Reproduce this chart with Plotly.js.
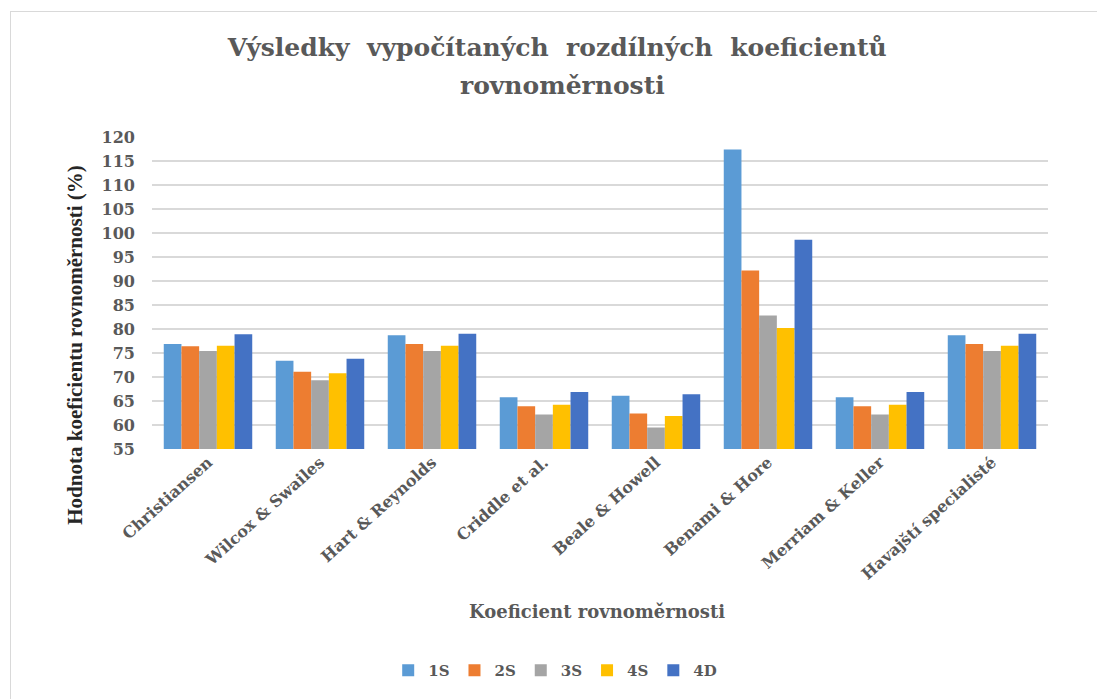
<!DOCTYPE html>
<html>
<head>
<meta charset="utf-8">
<script src="https://cdn.plot.ly/plotly-3.0.1.min.js"></script>
<style>
html,body{margin:0;padding:0;background:#fff;}
#wrap{position:relative;width:1097px;height:699px;overflow:hidden;}
#chart{width:1097px;height:699px;}
#frame{position:absolute;left:10px;top:11px;width:1200px;height:800px;border:1.5px solid #d9d9d9;pointer-events:none;}
</style>
</head>
<body>
<div id="wrap"><div id="chart"></div><div id="frame"></div></div>
<script>
const categories = ["Christiansen","Wilcox & Swailes","Hart & Reynolds","Criddle et al.","Beale & Howell","Benami & Hore","Merriam & Keller","Havajští specialisté"];
const seriesNames = ["1S","2S","3S","4S","4D"];
const s1S = [76.9, 73.4, 78.7, 65.8, 66.1, 117.4, 65.8, 78.7];
const s2S = [76.4, 71.1, 76.9, 63.9, 62.4, 92.2, 63.9, 76.9];
const s3S = [75.4, 69.3, 75.4, 62.2, 59.5, 82.8, 62.2, 75.4];
const s4S = [76.5, 70.8, 76.5, 64.2, 61.9, 80.2, 64.2, 76.5];
const s4D = [78.9, 73.8, 79.0, 66.9, 66.4, 98.6, 66.9, 79.0];
const yTicks = [55,60,65,70,75,80,85,90,95,100,105,110,115,120];

const values = [s1S, s2S, s3S, s4S, s4D];
const colors = ["#5B9BD5","#ED7D31","#A5A5A5","#FFC000","#4472C4"];
const wide = "DejaVu Serif";
const serif = "Liberation Serif";

const traces = seriesNames.map((n,i)=>({
  type:'bar', name:n, x:categories, y:values[i],
  marker:{color:colors[i]}
}));

const layout = {
  width:1097, height:699,
  margin:{l:152, r:49, t:137, b:246},
  paper_bgcolor:'#fff', plot_bgcolor:'#fff',
  barmode:'group', bargap:0.21, bargroupgap:0,
  font:{family:wide, color:'#595959'},
  title:{
    text:'<b>Výsledky\u00a0 vypočítaných\u00a0 rozdílných\u00a0 koeficientů</b>',
    font:{family:wide, size:25, color:'#595959'},
    x:0.508, xanchor:'center', y:1-47/699, yanchor:'middle'
  },
  xaxis:{
    type:'category', tickangle:-42, showgrid:false, showline:false, zeroline:false,
    ticks:'', tickfont:{family:wide, size:16, color:'#595959', weight:'bold'}
  },
  yaxis:{
    range:[55,120], tickvals:yTicks, ticktext:yTicks.map(String),
    showgrid:true, gridcolor:'#d9d9d9', gridwidth:1.5,
    showline:false, zeroline:false, ticks:'', ticklabelstandoff:16,
    tickfont:{family:wide, size:16, color:'#595959', weight:'bold'}
  },
  showlegend:true,
  legend:{orientation:'h', x:0.45, xanchor:'center', y:-0.71, yanchor:'middle',
    font:{family:wide, size:15, color:'#595959', weight:'bold'}, itemwidth:30,
    traceorder:'normal'},
  annotations:[
    {text:'<b>rovnoměrnosti</b>', xref:'paper', yref:'paper',
     x:0.458, y:1+(137-85)/316, xanchor:'center', yanchor:'middle', showarrow:false,
     font:{family:wide, size:25, color:'#595959'}},
    {text:'<b>Hodnota koeficientu rovnoměrnosti (%)</b>', xref:'paper', yref:'paper',
     x:-0.086, y:0.334, xanchor:'center', yanchor:'middle', textangle:-90, showarrow:false,
     font:{family:serif, size:21, color:'#262626'}},
    {text:'<b>Koeficient rovnoměrnosti</b>', xref:'paper', yref:'paper',
     x:0.497, y:-0.52, xanchor:'center', yanchor:'middle', showarrow:false,
     font:{family:wide, size:18, color:'#595959'}}
  ]
};

Plotly.newPlot('chart', traces, layout, {displayModeBar:false, staticPlot:true});
</script>
</body>
</html>
